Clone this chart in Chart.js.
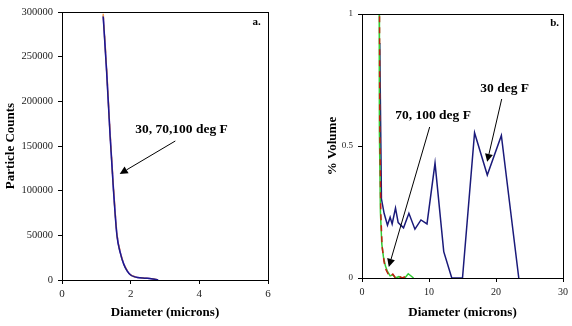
<!DOCTYPE html>
<html>
<head>
<meta charset="utf-8">
<script src="https://cdn.jsdelivr.net/npm/chart.js@4.4.1/dist/chart.umd.min.js"></script>
<style>
  html, body { margin: 0; padding: 0; background: #fff; }
  #wrap { position: relative; width: 572px; height: 326px; }
  .panel { position: absolute; top: 0; width: 286px; height: 326px; }
</style>
</head>
<body>
<div id="wrap">
  <div class="panel" style="left:0"><canvas id="chartA"></canvas></div>
  <div class="panel" style="left:286px"><canvas id="chartB"></canvas></div>
</div>
<script>
// ---- panel a: particle counts ----
const diamA = [1.2, 1.3, 1.4, 1.5, 1.6, 1.7, 1.8, 1.9, 2.0, 2.1, 2.2, 2.4, 2.6, 2.8];
const countsA30  = [295000, 233000, 162000, 100000, 50000, 30000, 17500, 10000, 5600, 3800, 2800, 2000, 1500, 0];
const countsA70  = [298000, 236000, 165000, 103000, 52000, 31000, 18000, 10500, 5800, 3900, 2900, 2100, 1500, 0];
const countsA100 = [296000, 235000, 164000, 102000, 51000, 30500, 17800, 10200, 5700, 3850, 2850, 2050, 1500, 0];

// ---- panel b: % volume ----
const diamB30 = [2.65, 2.9, 3.3, 3.8, 4.2, 4.5, 5.0, 5.4, 6.2, 7.0, 7.9, 8.8, 9.7, 10.9, 12.2, 13.4, 15.0, 16.8, 18.7, 20.8, 23.4];
const volB30  = [0.89, 0.30, 0.245, 0.20, 0.23, 0.205, 0.265, 0.21, 0.19, 0.245, 0.185, 0.22, 0.205, 0.435, 0.10, 0, 0, 0.55, 0.39, 0.54, 0];
const diamB70 = [2.6, 2.65, 2.8, 3.0, 3.3, 3.6, 4.0, 4.2, 4.6, 5.0, 5.5, 6.0, 6.6, 7.0];
const volB70  = [1.2, 0.6, 0.25, 0.12, 0.06, 0.03, 0.01, 0.006, 0.015, 0, 0.007, 0, 0.007, 0];
const diamB100 = [2.55, 2.6, 2.75, 2.95, 3.2, 3.5, 3.8, 4.2, 4.6, 5.0, 5.5, 6.0, 6.4, 6.9, 7.7];
const volB100  = [1.3, 0.55, 0.25, 0.13, 0.08, 0.045, 0.025, 0.008, 0.012, 0, 0.005, 0, 0, 0.016, 0];

const pts = (xs, ys) => xs.map((x, i) => ({ x, y: ys[i] }));
const SERIF = '"Liberation Serif", "Times New Roman", serif';

// frame round the plot area, arrows and labels in data coordinates
const notesPlugin = {
    id: 'notes',
    afterDatasetsDraw(chart, args, opts) {
        const { ctx, chartArea: a, scales } = chart;
        const px = v => scales.x.getPixelForValue(v);
        const py = v => scales.y.getPixelForValue(v);
        ctx.save();
        ctx.strokeStyle = '#000';
        ctx.lineWidth = 1;
        const l = Math.round(a.left) + 0.5, t = Math.round(a.top) + 0.5;
        const r = Math.round(a.right) + 0.5, b = Math.round(a.bottom) + 0.5;
        ctx.strokeRect(l, t, r - l, b - t);

        (opts.arrows || []).forEach(ar => {
            const x1 = px(ar.from[0]), y1 = py(ar.from[1]);
            const x2 = px(ar.to[0]), y2 = py(ar.to[1]);
            const ang = Math.atan2(y2 - y1, x2 - x1);
            const len = 8, wid = 4;
            const bx = x2 - len * Math.cos(ang), by = y2 - len * Math.sin(ang);
            ctx.beginPath();
            ctx.moveTo(x1, y1);
            ctx.lineTo(bx, by);
            ctx.stroke();
            ctx.beginPath();
            ctx.moveTo(x2, y2);
            ctx.lineTo(bx + wid * Math.sin(ang), by - wid * Math.cos(ang));
            ctx.lineTo(bx - wid * Math.sin(ang), by + wid * Math.cos(ang));
            ctx.closePath();
            ctx.fillStyle = '#000';
            ctx.fill();
        });

        (opts.labels || []).forEach(lb => {
            ctx.font = 'bold ' + lb.size + 'px ' + SERIF;
            ctx.fillStyle = '#000';
            ctx.textAlign = 'center';
            ctx.textBaseline = 'middle';
            ctx.fillText(lb.text, px(lb.at[0]), py(lb.at[1]));
        });
        ctx.restore();
    }
};

function axisX(min, max, step, font, height) {
    return {
        type: 'linear', min, max,
        ticks: { stepSize: step, font: { family: SERIF, size: font }, color: '#222', padding: 4 },
        grid: { drawOnChartArea: false, tickLength: 4, color: '#000' },
        border: { color: '#000' },
        title: { display: true, text: 'Diameter (microns)', font: { family: SERIF, size: 13, weight: 'bold' }, color: '#000', padding: { top: 0, bottom: 6 } },
        afterFit: s => { s.height = height; }
    };
}

// =============================================
// Panel a
// =============================================
new Chart(document.getElementById('chartA'), {
    type: 'line',
    data: {
        datasets: [
            { label: '30 deg F', data: pts(diamA, countsA30), borderColor: '#1a1a8c', order: 0 },
            { label: '70 deg F', data: pts(diamA, countsA70), borderColor: '#f0a050', borderDash: [6, 5], order: 1 },
            { label: '100 deg F', data: pts(diamA, countsA100), borderColor: '#a050c0', order: 2 }
        ].map(d => Object.assign(d, { pointRadius: 0, borderWidth: 1.5, cubicInterpolationMode: 'monotone', fill: false }))
    },
    options: {
        responsive: true,
        maintainAspectRatio: false,
        animation: false,
        layout: { padding: { top: 12, right: 18, left: 0, bottom: 0 } },
        plugins: {
            legend: { display: false },
            tooltip: { enabled: false },
            notes: {
                arrows: [{ from: [3.3, 155600], to: [1.68, 118700] }],
                labels: [
                    { text: '30, 70,100 deg F', at: [3.48, 169000], size: 13.5 },
                    { text: 'a.', at: [5.67, 288800], size: 11 }
                ]
            }
        },
        scales: {
            x: axisX(0, 6, 2, 11, 46),
            y: {
                type: 'linear', min: 0, max: 300000,
                ticks: { stepSize: 50000, font: { family: SERIF, size: 10.5 }, color: '#222', padding: 5, callback: v => String(v) },
                grid: { drawOnChartArea: false, tickLength: 4, color: '#000' },
                border: { color: '#000' },
                title: { display: true, text: 'Particle Counts', font: { family: SERIF, size: 13, weight: 'bold' }, color: '#000', padding: { top: 3, bottom: 0 } },
                afterFit: s => { s.width = 62; }
            }
        }
    },
    plugins: [notesPlugin]
});

// =============================================
// Panel b
// =============================================
new Chart(document.getElementById('chartB'), {
    type: 'line',
    data: {
        datasets: [
            { label: '30 deg F', data: pts(diamB30, volB30), borderColor: '#1a1a7a', order: 2 },
            { label: '70 deg F', data: pts(diamB70, volB70), borderColor: '#c02010', borderDash: [6, 5], order: 0 },
            { label: '100 deg F', data: pts(diamB100, volB100), borderColor: '#33cc33', order: 1 }
        ].map(d => Object.assign(d, { pointRadius: 0, borderWidth: 1.5, tension: 0, fill: false }))
    },
    options: {
        responsive: true,
        maintainAspectRatio: false,
        animation: false,
        layout: { padding: { top: 14, right: 8, left: 0, bottom: 0 } },
        plugins: {
            legend: { display: false },
            tooltip: { enabled: false },
            notes: {
                arrows: [
                    { from: [10.1, 0.572], to: [4.0, 0.042] },
                    { from: [20.85, 0.678], to: [18.68, 0.44] }
                ],
                labels: [
                    { text: '70, 100 deg F', at: [10.6, 0.614], size: 13.5 },
                    { text: '30 deg F', at: [21.3, 0.716], size: 13.5 },
                    { text: 'b.', at: [28.75, 0.966], size: 11 }
                ]
            }
        },
        scales: {
            x: axisX(0, 30, 10, 10, 48),
            y: {
                type: 'linear', min: 0, max: 1,
                ticks: { stepSize: 0.5, font: { family: SERIF, size: 9 }, color: '#222', padding: 5, callback: v => String(v) },
                grid: { drawOnChartArea: false, tickLength: 4, color: '#000' },
                border: { color: '#000' },
                title: { display: true, text: '% Volume', font: { family: SERIF, size: 13, weight: 'bold' }, color: '#000', padding: { top: 39, bottom: 0 } },
                afterFit: s => { s.width = 76; }
            }
        }
    },
    plugins: [notesPlugin]
});
</script>
</body>
</html>
